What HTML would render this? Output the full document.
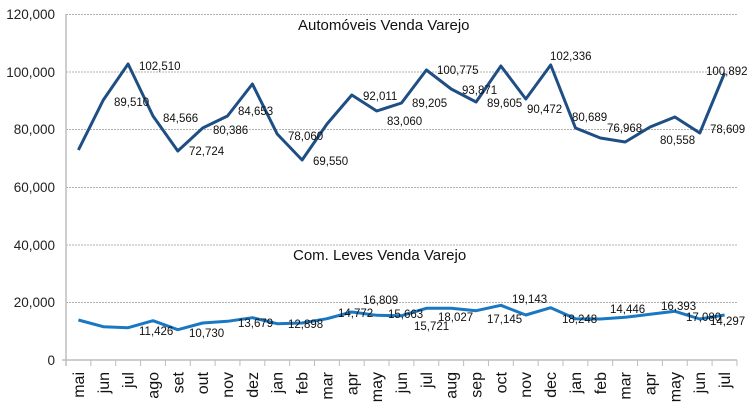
<!DOCTYPE html>
<html><head><meta charset="utf-8"><style>body{margin:0;background:#fff}svg{display:block;font-family:"Liberation Sans",sans-serif}</style></head>
<body>
<svg width="750" height="412" viewBox="0 0 750 412" xmlns="http://www.w3.org/2000/svg">
<g stroke="#b0b0b0" stroke-dasharray="2,1" stroke-width="1">
<line x1="66" y1="14.5" x2="737" y2="14.5"/><line x1="66" y1="72" x2="737" y2="72"/><line x1="66" y1="129.5" x2="737" y2="129.5"/><line x1="66" y1="187.5" x2="737" y2="187.5"/><line x1="66" y1="245" x2="737" y2="245"/><line x1="66" y1="302.5" x2="737" y2="302.5"/>
</g>
<g stroke="#bdbdbd" stroke-width="1.5"><line x1="66" y1="14" x2="66" y2="366"/><line x1="62" y1="360" x2="737" y2="360"/></g>
<g stroke="#bdbdbd" stroke-width="1" id="ticks"></g>
<g font-size="13.5" fill="#222" text-anchor="end">
<text x="55" y="19">120,000</text><text x="55" y="77">100,000</text><text x="55" y="134">80,000</text><text x="55" y="192">60,000</text><text x="55" y="250">40,000</text><text x="55" y="307">20,000</text><text x="55" y="365">0</text>
</g>
<polyline fill="none" stroke="#1f4e85" stroke-width="3" stroke-linejoin="round" points="78.4,150 103.3,100 128.1,64 153,116 177.8,151 202.7,128 227.5,116 252.4,84 277.2,134 302.1,160 327,124 351.8,95 376.7,111 401.5,103 426.4,70 451.2,89 476.1,102 500.9,66 525.8,99 550.7,65 575.5,128 600.4,138 625.2,142 650.1,127 674.9,117 699.8,133 724.6,73"/>
<polyline fill="none" stroke="#1a78c2" stroke-width="3" stroke-linejoin="round" points="78.4,320 103.3,326.7 128.1,327.7 153,320.7 177.8,329.7 202.7,323 227.5,321.3 252.4,317.7 277.2,323.7 302.1,323 327,318.7 351.8,312 376.7,315.3 401.5,315.7 426.4,308.3 451.2,308.3 476.1,310.7 500.9,305.3 525.8,315 550.7,307.7 575.5,318.7 600.4,319 625.2,317.3 650.1,314.3 674.9,311.3 699.8,319 724.6,315"/>
<g font-size="15" fill="#111"><text x="298" y="30">Automóveis Venda Varejo</text><text x="293" y="260">Com. Leves Venda Varejo</text></g>
<g font-size="11.5" fill="#111">
<text x="139" y="70">102,510</text><text x="114" y="106">89,510</text><text x="163" y="122">84,566</text><text x="189" y="155">72,724</text><text x="213" y="134">80,386</text><text x="238" y="115">84,653</text><text x="288" y="140">78,060</text><text x="313" y="165">69,550</text><text x="363" y="100">92,011</text><text x="387" y="125">83,060</text><text x="412" y="107">89,205</text><text x="437" y="74">100,775</text><text x="462" y="94">93,871</text><text x="487" y="107">89,605</text><text x="550" y="60">102,336</text><text x="527" y="113">90,472</text><text x="572" y="121">80,689</text><text x="607" y="132">76,968</text><text x="660" y="144">80,558</text><text x="706" y="75">100,892</text><text x="710" y="133">78,609</text>
<text x="139" y="335">11,426</text><text x="189" y="337">10,730</text><text x="238" y="327">13,679</text><text x="288" y="328">12,898</text><text x="338" y="317">14,772</text><text x="363" y="304">16,809</text><text x="388" y="318">15,663</text><text x="414" y="330">15,721</text><text x="438" y="321">18,027</text><text x="487" y="323">17,145</text><text x="512" y="303">19,143</text><text x="562" y="323">18,248</text><text x="610" y="313">14,446</text><text x="661" y="310">16,393</text><text x="686" y="321">17,080</text><text x="710" y="325">14,297</text>
</g>
<g font-size="16" fill="#111" text-anchor="end" id="xl"></g>
<script>
var m="mai jun jul ago set out nov dez jan feb mar apr may jun jul aug sep oct nov dec jan feb mar apr may jun jul".split(" ");
var t=document.getElementById("ticks"),xl=document.getElementById("xl"),ns="http://www.w3.org/2000/svg";
for(var i=0;i<=27;i++){var x=66+24.85*i;var l=document.createElementNS(ns,"line");l.setAttribute("x1",x);l.setAttribute("x2",x);l.setAttribute("y1",360);l.setAttribute("y2",366);t.appendChild(l);}
for(var i=0;i<27;i++){var x=78.4+24.85*i+5.5;var e=document.createElementNS(ns,"text");e.setAttribute("transform","translate("+x+",372) rotate(-90)");e.textContent=m[i];xl.appendChild(e);}
</script>
</svg>
</body></html>
